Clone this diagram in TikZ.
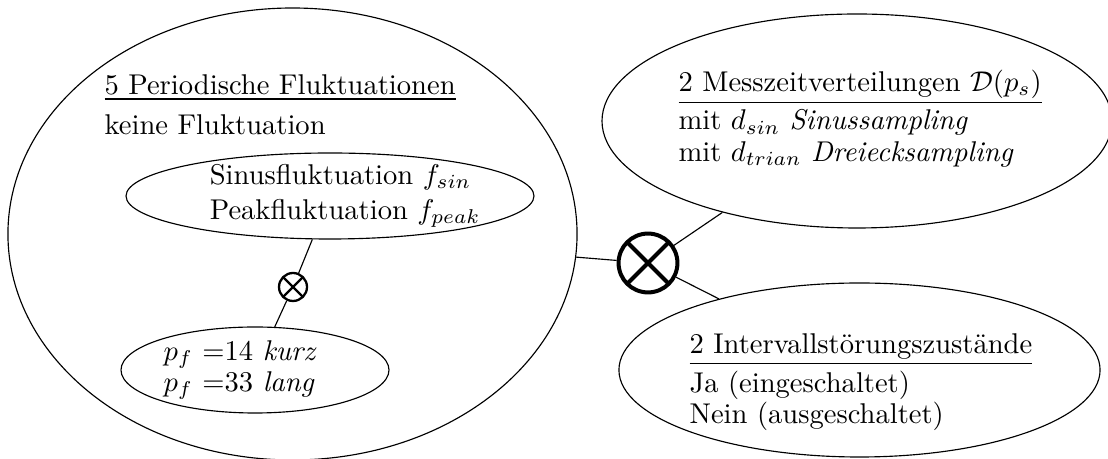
\documentclass[tikz,border=0pt]{standalone}
\usepackage{amsmath}
\usetikzlibrary{shapes.geometric}

\tikzset{
  blob/.style={ellipse, draw, inner sep=0pt},
  txt/.style={align=left, inner sep=0pt, font=\fontsize{10pt}{11pt}\selectfont},
  otimes/.style={circle, draw, line width=#1, inner sep=0pt,
    path picture={\draw[line width=#1]
      (path picture bounding box.north west) -- (path picture bounding box.south east)
      (path picture bounding box.north east) -- (path picture bounding box.south west);}},
}

\begin{document}
\begin{tikzpicture}[x=0.35pt, y=-0.35pt]
  \useasboundingbox (0,0) rectangle (1108,459);

  % Fluktuationen
  \node[blob, minimum width=199.2pt, minimum height=158.2pt] (fl) at (292.5,234) {};
  \node[txt, anchor=north west] (fltitle) at (104,74)
    {\underline{5 Periodische Fluktuationen}\\[3pt] keine Fluktuation};
  \node[blob, minimum width=142.8pt, minimum height=30.1pt,
    label={[txt, xshift=5.3pt]center:Sinusfluktuation $f_{sin}$\\[1.25pt] Peakfluktuation $f_{peak}$}] (sp) at (330,196) {};
  \node[otimes=0.8pt, minimum size=9.8pt] (ox1) at (293,287) {};
  \node[blob, minimum width=93.8pt, minimum height=30.1pt,
    label={[txt, xshift=-5.2pt]center:$p_f$ =14 \textit{kurz}\\ $p_f$ =33 \textit{lang}}] (pf) at (255,370) {};

  % Messzeit / Stoerung
  \node[otimes=1.4pt, minimum size=20.6pt] (ox2) at (648,263) {};
  \node[blob, minimum width=178.5pt, minimum height=74.9pt,
    label={[txt, xshift=1.1pt, yshift=0.9pt]center:\underline{2 Messzeitverteilungen $\mathcal{D}(p_s)$}\\[1pt] mit $d_{sin}$ \textit{Sinussampling}\\ mit $d_{trian}$ \textit{Dreiecksampling}}] (ms) at (857,121) {};
  \node[blob, minimum width=168.4pt, minimum height=60.9pt,
    label={[txt, xshift=0.5pt, yshift=-4.3pt]center:\underline{2 Intervallstörungszustände}\\[1pt] Ja (eingeschaltet)\\ Nein (ausgeschaltet)}] (is) at (859.5,370) {};

  \draw (ox1) -- (sp) (ox1) -- (pf);
  \draw (ox2) -- (fl) (ox2) -- (ms) (ox2) -- (is);
\end{tikzpicture}
\end{document}
